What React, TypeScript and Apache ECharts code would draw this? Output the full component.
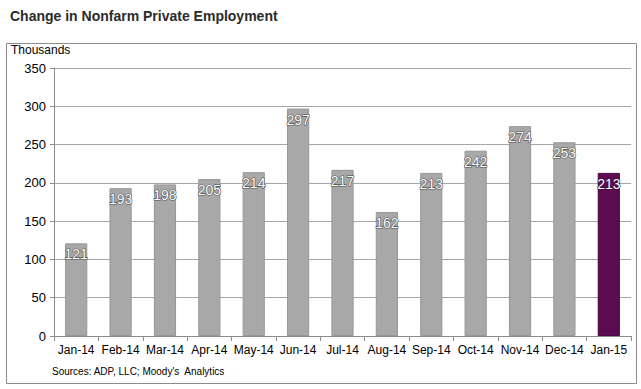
import React, { useEffect, useRef } from "react";
import * as echarts from "echarts";

const categories = ["Jan-14", "Feb-14", "Mar-14", "Apr-14", "May-14", "Jun-14", "Jul-14", "Aug-14", "Sep-14", "Oct-14", "Nov-14", "Dec-14", "Jan-15"];
const values = [121, 193, 198, 205, 214, 297, 217, 162, 213, 242, 274, 253, 213];
const highlightIndex = 12;

export default function App() {
  const ref = useRef<HTMLDivElement>(null);
  useEffect(() => {
    const chart = echarts.init(ref.current!, null, { renderer: "svg" });
    const font = "'Liberation Sans', Arial, sans-serif";
    chart.setOption({
      animation: false,
      backgroundColor: "#ffffff",
      textStyle: { fontFamily: font },
      title: {
        text: "Change in Nonfarm Private Employment",
        left: 5,
        top: 4,
        textStyle: { fontSize: 14, fontWeight: "bold", color: "#2b2b2b", fontFamily: font },
      },
      graphic: [
        {
          type: "rect",
          shape: { x: 6.5, y: 43.5, width: 630, height: 340 },
          style: { fill: "none", stroke: "#8c8c8c", lineWidth: 1 },
          silent: true,
        },
        {
          type: "text",
          left: 11,
          top: 44,
          style: { text: "Thousands", fontSize: 12, fill: "#000", fontFamily: font },
        },
        {
          type: "text",
          left: 52,
          top: 366,
          style: { text: "Sources: ADP, LLC; Moody's  Analytics", fontSize: 10, fill: "#000", fontFamily: font },
        },
      ],
      grid: { left: 54, right: 10, top: 68, bottom: 53 },
      xAxis: {
        type: "category",
        data: categories,
        axisLine: { lineStyle: { color: "#8c8c8c" } },
        axisTick: { show: true, length: 5, lineStyle: { color: "#8c8c8c" } },
        axisLabel: { color: "#000", fontSize: 12, margin: 8, interval: 0, fontFamily: font },
      },
      yAxis: {
        type: "value",
        min: 0,
        max: 350,
        interval: 50,
        axisLine: { show: true, lineStyle: { color: "#8c8c8c" } },
        axisTick: { show: true, length: 4, lineStyle: { color: "#8c8c8c" } },
        axisLabel: { color: "#000", fontSize: 13, margin: 8, fontFamily: font },
        splitLine: { lineStyle: { color: "#a6a6a6", width: 1 } },
      },
      series: [
        {
          type: "bar",
          barWidth: "50%",
          data: values.map((v, i) => ({
            value: v,
            itemStyle: i === highlightIndex
              ? { color: "#5c0b50", borderColor: "#4a0840", borderWidth: 1 }
              : { color: "#a8a8a8", borderColor: "#969696", borderWidth: 1 },
            label: i === highlightIndex ? { textBorderColor: "#3a0632", textBorderWidth: 1 } : undefined,
          })),
          label: {
            show: true,
            position: "insideTop",
            distance: 4,
            color: "#ffffff",
            fontSize: 14,
            fontFamily: font,
            textBorderColor: "#505050",
            textBorderWidth: 1.2,
          },
        },
      ],
    });
    return () => chart.dispose();
  }, []);
  return (
    <div
      ref={ref}
      style={{ position: "fixed", left: 0, top: 0, width: 641, height: 389 }}
    />
  );
}
